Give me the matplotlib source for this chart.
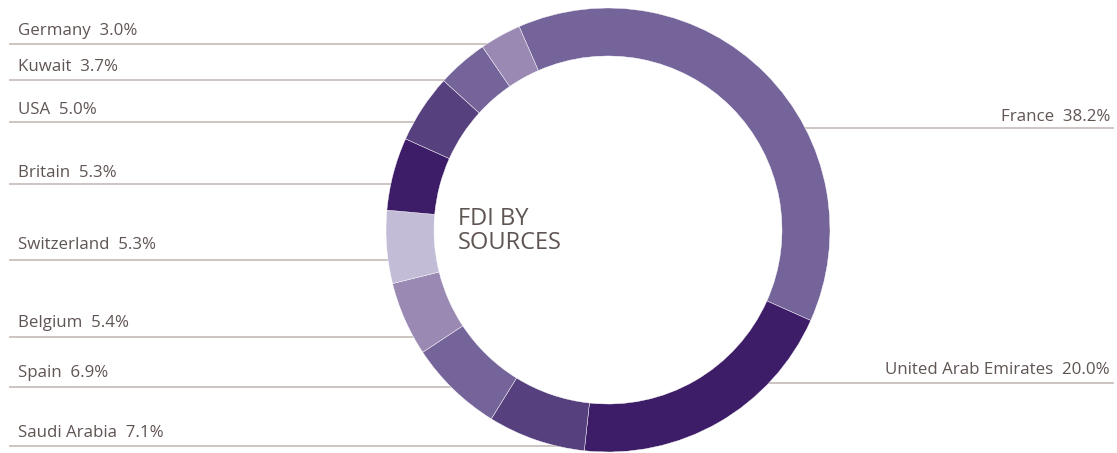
import numpy as np
import matplotlib.pyplot as plt

# FDI shares by source country, clockwise from the top
countries = ['France', 'United Arab Emirates', 'Saudi Arabia', 'Spain', 'Belgium',
             'Switzerland', 'Britain', 'USA', 'Kuwait', 'Germany']
shares = [38.2, 20.0, 7.1, 6.9, 5.4, 5.3, 5.3, 5.0, 3.7, 3.0]

colors = ['#74649a', '#3e1d68', '#56417e', '#74649a', '#9a89b3',
          '#c2bcd7', '#3e1d68', '#56417e', '#74649a', '#9a89b3']

# label layout (pixel rows from the top): text row, leader line row, side
label_rows = {'Germany': (31, 44, 'L'), 'Kuwait': (67, 80, 'L'), 'USA': (110, 122, 'L'),
              'Britain': (173, 184, 'L'), 'Switzerland': (245, 260, 'L'),
              'Belgium': (323, 337, 'L'), 'Spain': (373, 387, 'L'),
              'Saudi Arabia': (433, 446, 'L'),
              'France': (117, 128, 'R'), 'United Arab Emirates': (370, 383, 'R')}

W, H = 1117, 453
cx, cy = 608, H - 230   # donut centre
R, ring = 222, 48

text_col = '#5f5553'
line_col = '#c9c0bd'

fig = plt.figure(figsize=(W / 100, H / 100), dpi=100)
ax = fig.add_axes([0, 0, 1, 1])

# ring
wedges, _ = ax.pie(shares, colors=colors, startangle=113.6, counterclock=False,
                   radius=R, center=(cx, cy), frame=True,
                   wedgeprops=dict(width=ring, edgecolor='#ffffff', linewidth=0.3))
for w in wedges:
    w.set_zorder(3)

# white hole so leader lines stop at the ring
ax.add_patch(plt.Circle((cx, cy), R - ring, color='white', zorder=2))

# labels + leader lines
for name, val in zip(countries, shares):
    ty, ly, side = label_rows[name]
    if side == 'L':
        ax.plot([10, cx], [H - ly, H - ly], color=line_col, lw=1.3, zorder=1)
        ax.text(18, H - ty, f'{name}  {val:.1f}%', ha='left', va='center',
                fontsize=12.2, color=text_col, family='Open Sans')
    else:
        ax.plot([cx, 1113], [H - ly, H - ly], color=line_col, lw=1.3, zorder=1)
        ax.text(1110, H - ty, f'{name}  {val:.1f}%', ha='right', va='center',
                fontsize=12.2, color=text_col, family='Open Sans')

ax.text(458, H - 207, 'FDI BY\nSOURCES', ha='left', va='top', fontsize=17,
        color=text_col, family='Open Sans', linespacing=1.0, zorder=4)

ax.set_xlim(0, W)
ax.set_ylim(0, H)
ax.set_aspect('equal')
ax.axis('off')

fig.savefig('out.png', dpi=100, facecolor='white')
